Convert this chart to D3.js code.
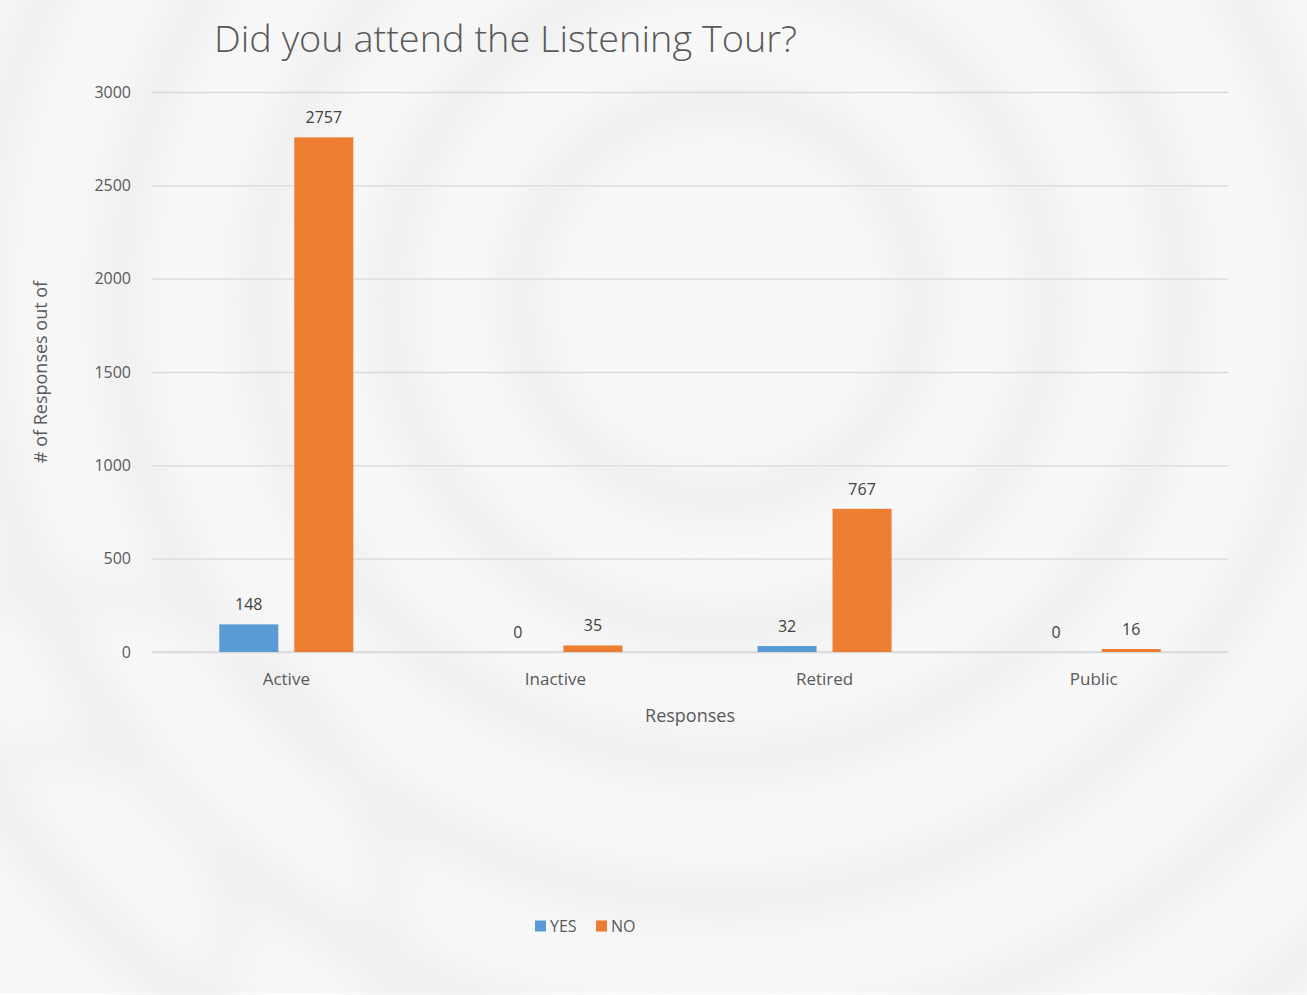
<!DOCTYPE html>
<html><head><meta charset="utf-8">
<script src="https://cdn.jsdelivr.net/npm/d3@7"></script>
<style>body{margin:0;background:#fff}svg{display:block}</style>
</head><body>
<svg id="c" width="1307" height="995"></svg>
<script>
const categories = ["Active", "Inactive", "Retired", "Public"];
const seriesNames = ["YES", "NO"];
const yesValues = [148, 0, 32, 0];
const noValues = [2757, 35, 767, 16];
const yTicks = [0, 500, 1000, 1500, 2000, 2500, 3000];
const colors = ["#5b9bd5", "#ed7d31"];

const svg = d3.select("#c");
const W = 1307, H = 995;
const font = "'Open Sans', 'Noto Sans', sans-serif";

// background with soft rings
const defs = svg.append("defs");
const f = defs.append("filter").attr("id","blur").attr("x","-20%").attr("y","-20%").attr("width","140%").attr("height","140%");
f.append("feGaussianBlur").attr("stdDeviation", 22);
svg.append("rect").attr("width", W).attr("height", 993).attr("fill", "#f8f8f8");
const rings = svg.append("g").attr("filter","url(#blur)");
[200, 330, 460, 600, 740, 880].forEach((r,i) => {
  rings.append("circle").attr("cx", 720).attr("cy", 300).attr("r", r)
    .attr("fill","none").attr("stroke","#ececec").attr("stroke-width", 36);
});
[170, 330].forEach(r => {
  rings.append("circle").attr("cx", 60).attr("cy", 920).attr("r", r)
    .attr("fill","none").attr("stroke","#efefef").attr("stroke-width", 30);
});

const m = {left:152, right:1228, top:92, bottom:652};
const x0 = d3.scaleBand().domain(categories).range([m.left, m.right]).paddingInner(0.502).paddingOuter(0.25);
const x1 = d3.scaleBand().domain(seriesNames).range([0, x0.bandwidth()]).paddingInner(0.213);
const y = d3.scaleLinear().domain([0, 3000]).range([m.bottom, m.top]);

// gridlines
const yAxis = d3.axisLeft(y).tickValues(yTicks).tickFormat(d3.format("d")).tickSize(-(m.right - m.left)).tickPadding(21);
const gy = svg.append("g").attr("transform", `translate(${m.left},0)`).call(yAxis);
gy.select(".domain").remove();
gy.selectAll(".tick line").attr("stroke", "#d9d9d9").attr("stroke-width", 1.3);
gy.selectAll(".tick text").attr("fill", "#595959").attr("font-size", 16).attr("font-family", font);

// x axis
const xAxis = d3.axisBottom(x0).tickSize(0).tickPadding(21);
const gx = svg.append("g").attr("transform", `translate(0,${m.bottom})`).call(xAxis);
gx.select(".domain").attr("stroke", "#d9d9d9").attr("stroke-width", 1.3)
  .attr("d", `M${m.left},0H${m.right}`);
gx.selectAll(".tick text").attr("fill", "#595959").attr("font-size", 17).attr("font-family", font);

const data = categories.map((c,i) => ({cat:c, vals:[{s:"YES", v:yesValues[i]}, {s:"NO", v:noValues[i]}]}));
const groups = svg.append("g").selectAll("g").data(data).join("g")
  .attr("transform", d => `translate(${x0(d.cat)},0)`);
groups.selectAll("rect").data(d => d.vals).join("rect")
  .attr("x", d => x1(d.s)).attr("width", x1.bandwidth())
  .attr("y", d => y(d.v)).attr("height", d => m.bottom - y(d.v))
  .attr("fill", (d,i) => colors[i]);
groups.selectAll("text").data(d => d.vals).join("text")
  .attr("x", d => x1(d.s) + x1.bandwidth()/2)
  .attr("y", d => y(d.v) - 14)
  .attr("text-anchor", "middle").attr("fill", "#404040")
  .attr("font-size", 16).attr("font-family", font)
  .text(d => d.v);

// titles
svg.append("text").attr("x", 214).attr("y", 52).attr("fill", "#595959")
  .attr("font-size", 37.5).attr("font-family", font).attr("font-weight", 300)
  .attr("textLength", 583).attr("lengthAdjust", "spacingAndGlyphs")
  .text("Did you attend the Listening Tour?");
svg.append("text").attr("x", (m.left + m.right)/2).attr("y", 722).attr("text-anchor", "middle")
  .attr("fill", "#595959").attr("font-size", 18).attr("font-family", font).text("Responses");
svg.append("text").attr("transform", `translate(47,${(m.top+m.bottom)/2}) rotate(-90)`)
  .attr("text-anchor", "middle").attr("fill", "#595959").attr("font-size", 18)
  .attr("font-family", font).text("# of Responses out of");

// legend
const lg = svg.append("g").attr("transform", "translate(535,926)");
const items = lg.selectAll("g").data(seriesNames).join("g")
  .attr("transform", (d,i) => `translate(${i*61},0)`);
items.append("rect").attr("x",0).attr("y",-5.5).attr("width",11).attr("height",11).attr("fill",(d,i)=>colors[i]);
items.append("text").attr("x",15).attr("y",6).attr("fill","#595959").attr("font-size",16)
  .attr("font-family", font).text(d=>d);
</script>
</body></html>
